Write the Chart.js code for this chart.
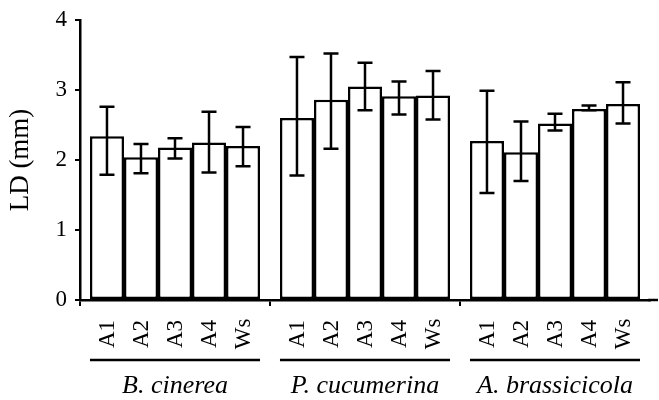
<!DOCTYPE html>
<html>
<head>
<meta charset="utf-8">
<script src="https://cdn.jsdelivr.net/npm/chart.js@4"></script>
<style>
  html, body { margin: 0; padding: 0; background: #fff; }
  #wrap { width: 659px; height: 400px; }
</style>
</head>
<body>
<div id="wrap"><canvas id="chart" width="659" height="400"></canvas></div>
<script>
// 病原菌ごとの LD (mm)
const species = ["B. cinerea", "P. cucumerina", "A. brassicicola"];
const strains = ["A1", "A2", "A3", "A4", "Ws"];

// 平均値（株順: A1, A2, A3, A4, Ws）
const meanBc = [2.34, 2.04, 2.18, 2.25, 2.20];
const meanPc = [2.60, 2.86, 3.05, 2.91, 2.92];
const meanAb = [2.27, 2.11, 2.52, 2.73, 2.80];

// エラーバー上側・下側の長さ
const errUpBc = [0.42, 0.19, 0.13, 0.44, 0.27];
const errUpPc = [0.87, 0.66, 0.34, 0.21, 0.35];
const errUpAb = [0.72, 0.44, 0.14, 0.05, 0.31];
const errLoBc = [0.55, 0.23, 0.16, 0.43, 0.29];
const errLoPc = [0.82, 0.70, 0.34, 0.26, 0.34];
const errLoAb = [0.74, 0.41, 0.10, 0.02, 0.28];

const yTicks = [0, 1, 2, 3, 4];

const means = [meanBc, meanPc, meanAb];
const errUp = [errUpBc, errUpPc, errUpAb];
const errLo = [errLoBc, errLoPc, errLoAb];

const FONT = "'Liberation Serif', 'Times New Roman', serif";

// 株ごとにデータセットを組む（x は病原菌）
const datasets = strains.map((s, i) => ({
  label: s,
  data: means.map(m => m[i]),
  errUp: errUp.map(e => e[i]),
  errLo: errLo.map(e => e[i]),
  backgroundColor: "#fff",
  borderColor: "#000",
  borderWidth: 2.5,
  borderSkipped: false,
  barPercentage: 1.0,
  categoryPercentage: 0.895
}));

// エラーバー・株名・下線
const extras = {
  id: "extras",
  afterDatasetsDraw(chart) {
    const ctx = chart.ctx;
    const y = chart.scales.y;
    const area = chart.chartArea;
    ctx.save();
    ctx.strokeStyle = "#000";
    ctx.fillStyle = "#000";

    // x 軸線を右端まで伸ばす
    ctx.lineWidth = 2.5;
    ctx.beginPath();
    ctx.moveTo(area.right - 2, area.bottom);
    ctx.lineTo(chart.width - 1, area.bottom);
    ctx.stroke();

    chart.data.datasets.forEach((ds, i) => {
      const meta = chart.getDatasetMeta(i);
      meta.data.forEach((bar, j) => {
        const v = ds.data[j];
        const top = y.getPixelForValue(v + ds.errUp[j]);
        const bot = y.getPixelForValue(v - ds.errLo[j]);
        const cap = 7.5;
        ctx.lineWidth = 2.5;
        ctx.beginPath();
        ctx.moveTo(bar.x, top);
        ctx.lineTo(bar.x, bot);
        ctx.moveTo(bar.x - cap, top);
        ctx.lineTo(bar.x + cap, top);
        ctx.moveTo(bar.x - cap, bot);
        ctx.lineTo(bar.x + cap, bot);
        ctx.stroke();

        // 株名（縦書き）
        ctx.save();
        ctx.translate(bar.x, area.bottom + 34);
        ctx.rotate(-Math.PI / 2);
        ctx.font = "23px " + FONT;
        ctx.textAlign = "center";
        ctx.textBaseline = "middle";
        ctx.fillText(ds.label, 0, 1);
        ctx.restore();
      });
    });

    // 病原菌ごとの下線
    const first = chart.getDatasetMeta(0);
    const last = chart.getDatasetMeta(chart.data.datasets.length - 1);
    ctx.lineWidth = 2.5;
    species.forEach((_, j) => {
      const a = first.data[j], b = last.data[j];
      ctx.beginPath();
      ctx.moveTo(a.x - a.width / 2, area.bottom + 60);
      ctx.lineTo(b.x + b.width / 2, area.bottom + 60);
      ctx.stroke();
    });
    ctx.restore();
  }
};

new Chart(document.getElementById("chart"), {
  type: "bar",
  data: { labels: species, datasets: datasets },
  options: {
    responsive: false,
    animation: false,
    layout: { padding: { top: 20, right: 9, left: 0, bottom: 0 } },
    plugins: { legend: { display: false }, tooltip: { enabled: false } },
    scales: {
      x: {
        afterFit: s => { s.height = 100; s.paddingLeft = 0; s.paddingRight = 0; },
        grid: {
          offset: true,
          drawOnChartArea: false,
          tickLength: 6,
          // 右端の目盛りは描かない
          color: c => (c.tick ? "#000" : "rgba(0,0,0,0)"),
          lineWidth: 2
        },
        border: { color: "#000", width: 2.5 },
        ticks: {
          color: "#000",
          padding: 65,
          maxRotation: 0,
          font: { family: FONT, size: 26, style: "italic" }
        }
      },
      y: {
        min: 0,
        max: 4,
        afterFit: s => { s.width = 80; s.paddingTop = 0; s.paddingBottom = 0; },
        afterBuildTicks: s => { s.ticks = yTicks.map(v => ({ value: v })); },
        grid: { drawOnChartArea: false, tickLength: 5, color: "#000", lineWidth: 2 },
        border: { color: "#000", width: 2.5 },
        ticks: {
          color: "#000",
          padding: 8,
          font: { family: FONT, size: 23 }
        },
        title: {
          display: true,
          text: "LD (mm)",
          color: "#000",
          padding: { top: 5, bottom: 4 },
          font: { family: FONT, size: 27 }
        }
      }
    }
  },
  plugins: [extras]
});
</script>
</body>
</html>
